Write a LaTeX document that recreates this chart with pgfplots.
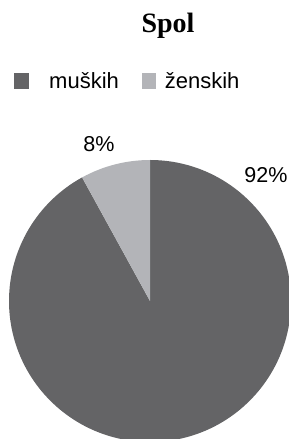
\documentclass[border=0pt]{standalone}
\usepackage{fontspec}
\setmainfont{Liberation Sans}
\newfontfamily\titlefont{Liberation Serif}
\usepackage{pgfplots}
\pgfplotsset{compat=1.18}
\definecolor{mdark}{HTML}{646466}
\definecolor{mlight}{HTML}{B3B4B8}
\begin{document}
\begin{tikzpicture}
\def\male{92}
\def\female{8}
\pgfmathsetmacro\angB{90+360*\female/100}
\begin{axis}[
  x=1pt, y=1pt,
  xmin=0, xmax=289, ymin=0, ymax=439,
  hide axis, clip=false,
  legend style={at={(axis cs:14,358)}, anchor=west, draw=none, fill=none,
    inner sep=0pt, legend columns=2,
    font=\fontsize{22}{26}\selectfont,
    /tikz/every even column/.append style={column sep=0pt},
    /tikz/every odd column/.append style={column sep=0pt},
    nodes={inner sep=0pt, anchor=base west}},
]
\addlegendimage{legend image code/.code={\path[draw=none,fill=none] (0,0) rectangle (35pt,0.1pt); \fill[mdark,draw=none] (0,-1pt) rectangle (15pt,15pt);}}
\addlegendentry{muških}
\addlegendimage{legend image code/.code={\path[draw=none,fill=none] (-23pt,0) rectangle (23pt,0.1pt); \fill[mlight,draw=none] (0,-1pt) rectangle (14pt,15pt);}}
\addlegendentry{ženskih}
\fill[mdark] (axis cs:150,138) -- ++(90:141pt) arc[start angle=90, end angle={\angB-360}, radius=141pt] -- cycle;
\fill[mlight] (axis cs:150,138) -- ++(\angB:141pt) arc[start angle=\angB, end angle=90, radius=141pt] -- cycle;
\node[anchor=base, font=\fontsize{21.5}{25}\selectfont, inner sep=0pt] at (axis cs:99,287) {\female\%};
\node[anchor=base, font=\fontsize{21.5}{25}\selectfont, inner sep=0pt] at (axis cs:266,256) {\male\%};
\node[anchor=base, font=\titlefont\bfseries\fontsize{28}{32}\selectfont, inner sep=0pt] at (axis cs:168,406) {Spol};
\coordinate (bl) at (axis cs:0,0);
\coordinate (tr) at (axis cs:289,439);
\end{axis}
\pgfresetboundingbox
\path[use as bounding box] (bl) rectangle (tr);
\end{tikzpicture}
\end{document}
